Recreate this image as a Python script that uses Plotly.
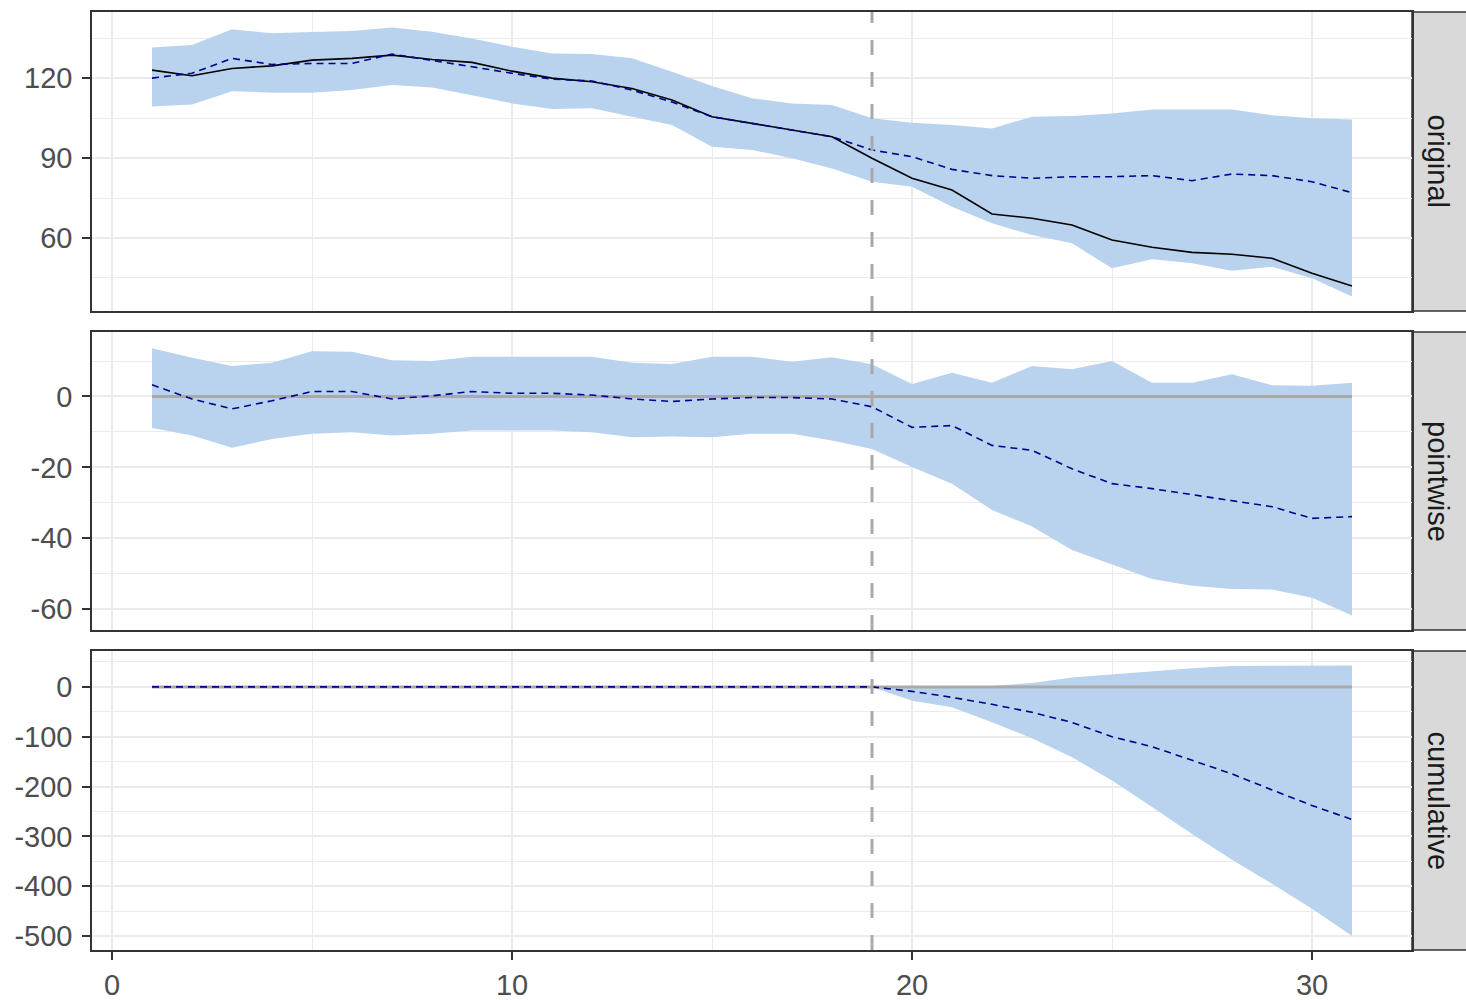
import plotly.graph_objects as go

# ---------------- data ----------------
time = list(range(1, 32))
pre_period_end = 19

orig_actual = [123, 120.9, 123.6, 124.6, 126.75, 127.4, 128.6, 127, 125.9, 122.6, 120,
               118.6, 116.1, 111.75, 105.5, 103, 100.25, 98, 89.9, 82.4, 78, 69, 67.4,
               64.9, 59.25, 56.5, 54.6, 53.9, 52.4, 46.75, 42]
orig_pred = [120, 121.8, 127.4, 125.1, 125.5, 125.5, 129, 126.5, 124.25, 121.8, 119.6,
             118.9, 115.5, 111, 105.5, 103, 100.5, 98, 93, 90.5, 85.75, 83.4, 82.4,
             83, 83, 83.4, 81.5, 84, 83.4, 81.1, 77]
orig_upper = [131.5, 132.4, 138.3, 136.8, 137.25, 137.7, 139, 137.4, 134.9, 131.75, 129.25,
              129, 127.4, 122.4, 117, 112.4, 110.5, 109.9, 104.9, 103.25, 102.4, 101.1,
              105.5, 105.75, 106.75, 108.25, 108.25, 108.25, 106.1, 104.9, 104.5]
orig_lower = [109.3, 110.1, 115.1, 114.5, 114.5, 115.5, 117.4, 116.5, 113.6, 110.5, 108.4,
              108.7, 105.5, 102.4, 94.25, 93, 89.9, 86.1, 81.1, 79.25, 71.75, 65.5, 61.1,
              58, 48.6, 52, 50.5, 47.75, 49.25, 44.9, 38]

point_mean = [3.3, -0.7, -3.5, -1.2, 1.4, 1.4, -0.7, 0.2, 1.4, 0.9, 0.9, 0.4, -0.7, -1.4,
              -0.7, -0.3, -0.3, -0.7, -2.9, -8.7, -8.2, -13.8, -15.2, -20.4, -24.6, -26,
              -27.7, -29.5, -31.1, -34.4, -33.9]
point_upper = [13.6, 10.9, 8.6, 9.5, 12.8, 12.6, 10.2, 10, 11.2, 11.2, 11.2, 11.2, 9.5, 9.2,
               11.2, 11.2, 9.8, 11.1, 9.1, 3.5, 6.7, 3.9, 8.6, 7.7, 10, 3.9, 3.9, 6.3, 3.2,
               3, 3.9]
point_lower = [-8.9, -11, -14.5, -12, -10.5, -10.1, -11, -10.5, -9.6, -9.6, -9.6, -10.1,
               -11.5, -11.3, -11.5, -10.5, -10.5, -12.4, -14.8, -19.9, -24.6, -32, -36.7,
               -43.3, -47.5, -51.5, -53.4, -54.3, -54.5, -56.8, -61.8]

cum_mean = [0] * 19 + [-9, -21, -35, -51, -71.3, -100, -120, -146.7, -174.7, -206.7, -238, -266]
cum_upper = [0] * 19 + [0, 0.5, 2, 8, 18.7, 25.3, 30.7, 37.3, 42, 42.7, 42.7, 42.7]
cum_lower = [0] * 19 + [-28, -41, -71, -103, -141, -188, -241, -295, -347, -395, -445, -500]

panel_labels = ["original", "pointwise", "cumulative"]
y_ticks = [[60, 90, 120], [-60, -40, -20, 0], [-500, -400, -300, -200, -100, 0]]
y_minor = [15, 10, 50]
y_ranges = [[32.6, 144.8], [-65.9, 18.2], [-528, 72]]
x_ticks = [0, 10, 20, 30]

# ---------------- style ----------------
BAND = "#B9D3EE"
DARKBLUE = "#00008B"
ZERO = "#A9A9A9"
BORDER = "#333333"
GRID = "#EBEBEB"
TICKTXT = "#4D4D4D"
FONT = "Liberation Sans, Arial, sans-serif"
FS = 29

W, H = 1466, 1000
ml, mr, mt, mb = 92, 54, 12, 50
plot_w = W - ml - mr
plot_h = H - mt - mb
panel_px = [(12, 311), (332, 630), (651, 950)]
domains = [[(H - mb - b) / plot_h, (H - mb - t) / plot_h] for t, b in panel_px]


def fmt(v):
    return str(v)  # plain hyphen minus as in the reference


fig = go.Figure()

series = [
    (orig_lower, orig_upper, orig_pred, orig_actual),
    (point_lower, point_upper, point_mean, None),
    (cum_lower, cum_upper, cum_mean, None),
]

for i, (lo, up, mean, actual) in enumerate(series):
    xa = "x" if i == 0 else f"x{i+1}"
    ya = "y" if i == 0 else f"y{i+1}"
    fig.add_trace(go.Scatter(x=time, y=lo, mode="lines", line=dict(width=0, color=BAND),
                             xaxis=xa, yaxis=ya, showlegend=False, hoverinfo="skip"))
    fig.add_trace(go.Scatter(x=time, y=up, mode="lines", line=dict(width=0, color=BAND),
                             fill="tonexty", fillcolor=BAND,
                             xaxis=xa, yaxis=ya, showlegend=False, hoverinfo="skip"))
    if actual is None:
        fig.add_trace(go.Scatter(x=time, y=[0 for _ in time], mode="lines",
                                 line=dict(width=3, color=ZERO),
                                 xaxis=xa, yaxis=ya, showlegend=False))
    else:
        fig.add_trace(go.Scatter(x=time, y=actual, mode="lines",
                                 line=dict(width=1.6, color="black"),
                                 xaxis=xa, yaxis=ya, showlegend=False))
    fig.add_trace(go.Scatter(x=time, y=mean, mode="lines",
                             line=dict(width=1.6, color=DARKBLUE, dash="7px,5px"),
                             xaxis=xa, yaxis=ya, showlegend=False))

    # vertical intervention line
    fig.add_shape(type="line", x0=pre_period_end, x1=pre_period_end, y0=0, y1=1,
                  xref=xa, yref=f"{ya} domain",
                  line=dict(color="#A9A9A9", width=3, dash="15px,17px"), layer="above")

    # strip box
    fig.add_shape(type="rect", xref="paper", yref="paper",
                  x0=1.0, x1=(W - ml + 5) / plot_w, y0=domains[i][0], y1=domains[i][1],
                  fillcolor="#D9D9D9", line=dict(color=BORDER, width=1.5), layer="below")
    fig.add_annotation(text=panel_labels[i], xref="paper", yref="paper",
                       x=(1438 - ml) / plot_w, y=(domains[i][0] + domains[i][1]) / 2,
                       xanchor="center", yanchor="middle",
                       showarrow=False, textangle=90,
                       font=dict(family=FONT, size=FS, color="#1A1A1A"))

    axis_common = dict(showline=True, mirror=True, linecolor=BORDER, linewidth=1.5,
                       showgrid=True, gridcolor=GRID, gridwidth=1.5, zeroline=False,
                       ticks="outside", ticklen=8, tickwidth=1.5, tickcolor=BORDER,
                       automargin=False,
                       tickfont=dict(family=FONT, size=FS, color=TICKTXT))
    xkey = "xaxis" if i == 0 else f"xaxis{i+1}"
    ykey = "yaxis" if i == 0 else f"yaxis{i+1}"
    xa_cfg = dict(axis_common, range=[-0.5, 32.5], tickvals=x_ticks,
                  ticktext=[fmt(v) for v in x_ticks], anchor=ya,
                  domain=[0, 1], minor=dict(showgrid=True, gridcolor=GRID, gridwidth=0.8,
                                            dtick=5, tick0=0, ticks=""))
    if i > 0:
        xa_cfg["matches"] = "x"
    if i < 2:
        xa_cfg["showticklabels"] = False
        xa_cfg["ticks"] = ""
    else:
        xa_cfg["ticklabelstandoff"] = 0
    ya_cfg = dict(axis_common, range=y_ranges[i], tickvals=y_ticks[i],
                  ticktext=[fmt(v) for v in y_ticks[i]], anchor=xa,
                  domain=domains[i], ticklabelstandoff=4,
                  minor=dict(showgrid=True, gridcolor=GRID, gridwidth=0.8,
                             dtick=y_minor[i], tick0=0, ticks=""))
    fig.update_layout({xkey: xa_cfg, ykey: ya_cfg})

fig.update_layout(
    width=W, height=H,
    margin=dict(l=ml, r=mr, t=mt, b=mb, autoexpand=False),
    plot_bgcolor="white", paper_bgcolor="white",
    showlegend=False,
    hovermode=False,
    font=dict(family=FONT, size=FS, color=TICKTXT),
)

fig.write_html("out.html",
               config={"displayModeBar": False},
               post_script="document.body.style.margin='0';document.body.style.overflow='hidden';")
